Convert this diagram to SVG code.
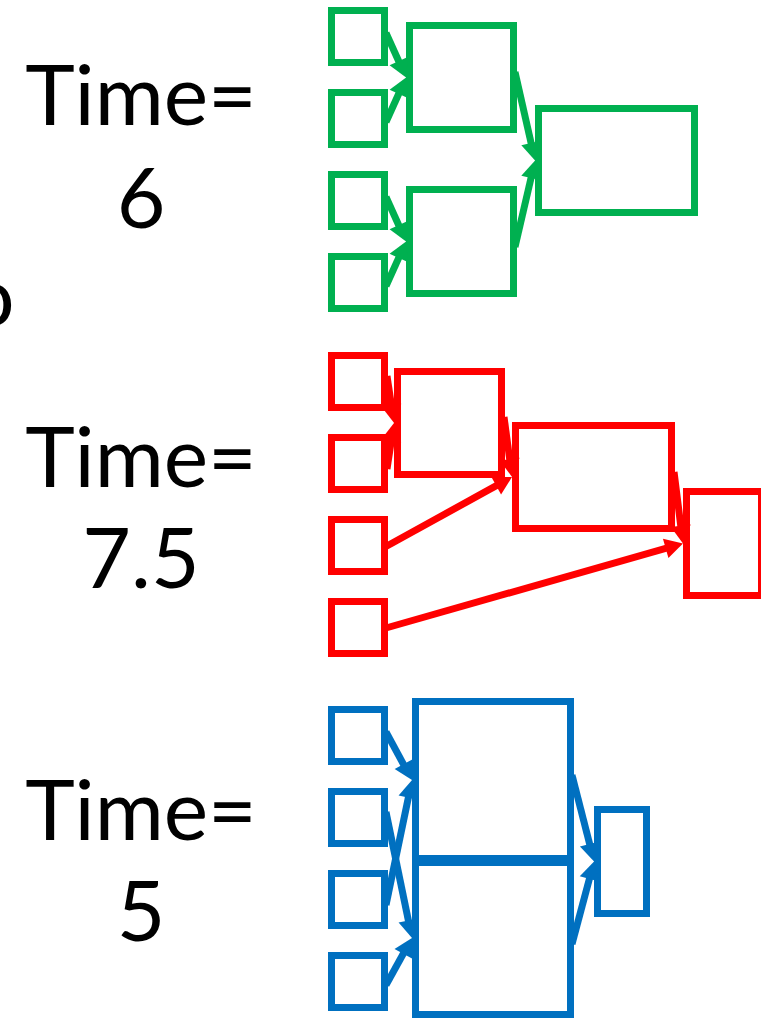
<svg xmlns="http://www.w3.org/2000/svg" width="761" height="1019" viewBox="0 0 761 1019">
  <style>
    .lbl { font-family: Lato, "Liberation Sans", sans-serif; font-size: 84px; fill: #000; text-anchor: middle; }
    .g { fill: #fff; stroke: #00B050; stroke-width: 7; }
    .r { fill: #fff; stroke: #FF0000; stroke-width: 7; }
    .b { fill: #fff; stroke: #0070C0; stroke-width: 7; }
    .cg { stroke: #00B050; stroke-width: 7; fill: none; marker-end: url(#ag); }
    .cr { stroke: #FF0000; stroke-width: 7; fill: none; marker-end: url(#ar); }
    .cb { stroke: #0070C0; stroke-width: 7; fill: none; marker-end: url(#ab); }
  </style>
  <defs>
    <marker id="ag" markerUnits="userSpaceOnUse" markerWidth="20" markerHeight="20" refX="10" refY="10" orient="auto" overflow="visible">
      <path d="M0,0 L18,10 L0,20 z" fill="#00B050"/>
    </marker>
    <marker id="ar" markerUnits="userSpaceOnUse" markerWidth="20" markerHeight="20" refX="10" refY="10" orient="auto" overflow="visible">
      <path d="M0,0 L18,10 L0,20 z" fill="#FF0000"/>
    </marker>
    <marker id="ab" markerUnits="userSpaceOnUse" markerWidth="20" markerHeight="20" refX="10" refY="10" orient="auto" overflow="visible">
      <path d="M0,0 L18,10 L0,20 z" fill="#0070C0"/>
    </marker>
  </defs>

  <rect width="761" height="1019" fill="#fff"/>

  <!-- labels -->
  <g id="labels">
    <text class="lbl" x="141" y="125">Time=</text>
    <text class="lbl" x="141" y="228">6</text>
    <text class="lbl" x="141" y="487">Time=</text>
    <text class="lbl" x="141" y="588">7.5</text>
    <text class="lbl" x="141" y="840">Time=</text>
    <text class="lbl" x="141" y="941">5</text>
    <text font-family="Lato, 'Liberation Sans', sans-serif" font-size="84" x="-33" y="326">o</text>
  </g>

  <!-- green tree -->
  <g id="g-in1"><rect class="g" x="331.5" y="10.5" width="53" height="52"/></g>
  <g id="g-in2"><rect class="g" x="331.5" y="92.5" width="53" height="52"/></g>
  <g id="g-in3"><rect class="g" x="331.5" y="174.5" width="53" height="52"/></g>
  <g id="g-in4"><rect class="g" x="331.5" y="256.5" width="53" height="52"/></g>
  <g id="g-mid1"><rect class="g" x="409.5" y="25.5" width="104" height="104"/></g>
  <g id="g-mid2"><rect class="g" x="409.5" y="189.5" width="104" height="104"/></g>
  <g id="g-out"><rect class="g" x="538.5" y="108.5" width="156" height="104"/></g>

  <!-- red chain -->
  <g id="r-in1"><rect class="r" x="331.5" y="355.5" width="53" height="52"/></g>
  <g id="r-in2"><rect class="r" x="331.5" y="437.5" width="53" height="52"/></g>
  <g id="r-in3"><rect class="r" x="331.5" y="519.5" width="53" height="52"/></g>
  <g id="r-in4"><rect class="r" x="331.5" y="601.5" width="53" height="52"/></g>
  <g id="r-s1"><rect class="r" x="397.5" y="371.5" width="104" height="103"/></g>
  <g id="r-s2"><rect class="r" x="515.5" y="425.5" width="156" height="103"/></g>
  <g id="r-s3"><rect class="r" x="686.5" y="491.5" width="75" height="104"/></g>

  <!-- blue tree -->
  <g id="b-in1"><rect class="b" x="331.5" y="709.5" width="53" height="52"/></g>
  <g id="b-in2"><rect class="b" x="331.5" y="791.5" width="53" height="52"/></g>
  <g id="b-in3"><rect class="b" x="331.5" y="873.5" width="53" height="52"/></g>
  <g id="b-in4"><rect class="b" x="331.5" y="955.5" width="53" height="52"/></g>
  <g id="b-mid1"><rect class="b" x="415.5" y="701.5" width="155" height="157"/></g>
  <g id="b-mid2"><rect class="b" x="415.5" y="862.5" width="155" height="152"/></g>
  <g id="b-out"><rect class="b" x="597.5" y="809.5" width="49" height="104"/></g>

  <!-- connectors -->
  <g id="connectors">
    <path class="cg" d="M386,33 L402.8,70.2"/>
    <path class="cg" d="M386,122 L402.8,84.8"/>
    <path class="cg" d="M386,197 L402.8,234.2"/>
    <path class="cg" d="M386,286 L402.8,248.8"/>
    <path class="cg" d="M515,72 L533.3,152.7"/>
    <path class="cg" d="M515,247 L533.3,168.3"/>

    <path class="cr" d="M387,376 L392.9,415.1"/>
    <path class="cr" d="M387,469 L392.8,430.9"/>
    <path class="cr" d="M386,546.5 L505,480.9"/>
    <path class="cr" d="M504,417 L511,469.1"/>
    <path class="cr" d="M674,472 L682,535.6"/>
    <path class="cr" d="M386,628 L675.3,545.7"/>

    <path class="cb" d="M386,732 L408.2,773"/>
    <path class="cb" d="M386,812 L410.4,930.2"/>
    <path class="cb" d="M386,905 L410.4,787.8"/>
    <path class="cb" d="M386,985 L408.1,945"/>
    <path class="cb" d="M572,775 L592.1,853.7"/>
    <path class="cb" d="M572,944 L592,869.2"/>
  </g>
</svg>
